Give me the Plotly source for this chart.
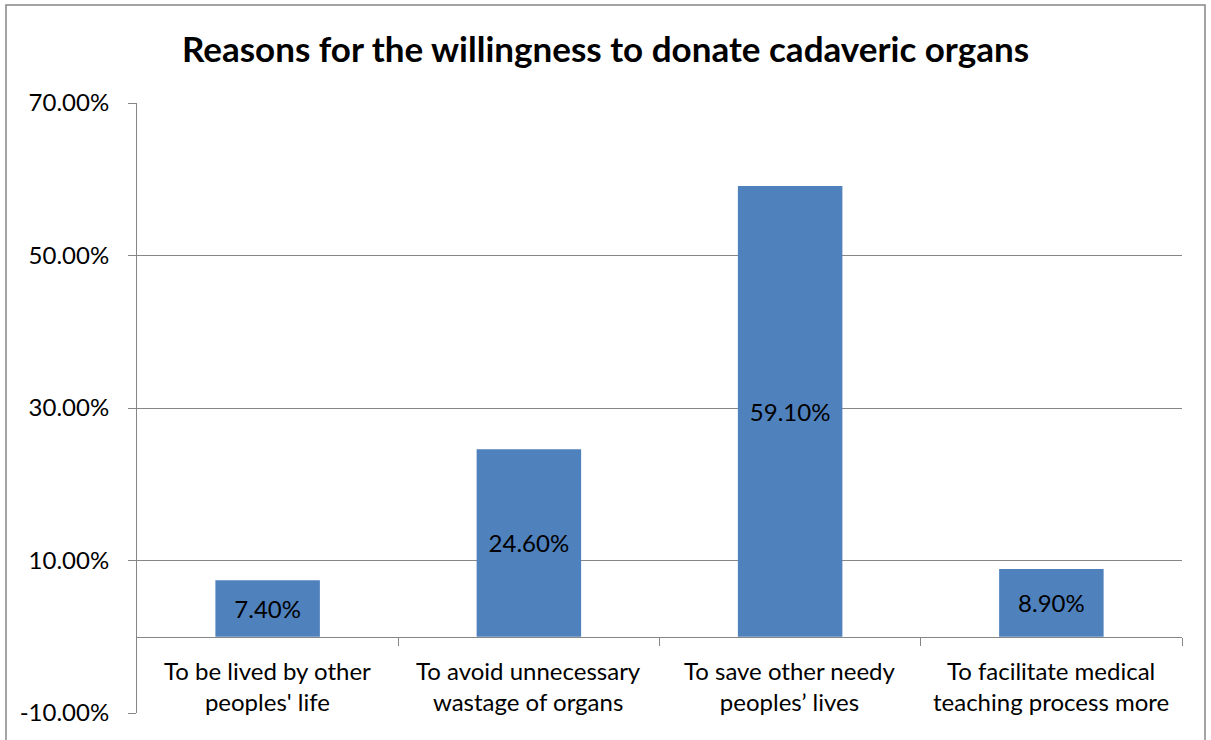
import plotly.graph_objects as go

categories = [
    "To be lived by other<br>peoples' life",
    "To avoid unnecessary<br>wastage of organs",
    "To save other needy<br>peoples’ lives",
    "To facilitate medical<br>teaching process more",
]
values = [7.4, 24.6, 59.1, 8.9]
y_ticks = [-10, 10, 30, 50, 70]
y_tick_labels = ["-10.00%", "10.00%", "30.00%", "50.00%", "70.00%"]
title = "Reasons for the willingness to donate cadaveric organs"

FONT = "Lato"
BAR = "#4F81BD"
GRID = "#868686"

W, H = 1211, 740
ML, MR, MT, MB = 137, 29, 103, 27
pw, ph = W - ML - MR, H - MT - MB

x = list(range(len(categories)))
y_min, y_max = -10, 70
zero_frac = (0 - y_min) / (y_max - y_min)

fig = go.Figure()
fig.add_trace(go.Bar(
    x=x, y=values, width=0.4,
    marker=dict(color=BAR, line=dict(width=0)),
    text=[f"{v:.2f}%" for v in values],
    textposition="inside", insidetextanchor="middle",
    textfont=dict(family=FONT, size=24, color="#000000"),
    hoverinfo="skip",
))

for i, c in enumerate(categories):
    fig.add_annotation(
        x=i, y=0, xref="x", yref="y", text=c, showarrow=False,
        yanchor="top", yshift=-17, align="center",
        font=dict(family=FONT, size=24, color="#000000"),
    )

fig.update_layout(
    width=W, height=H,
    margin=dict(l=ML, r=MR, t=MT, b=MB),
    paper_bgcolor="white", plot_bgcolor="white",
    showlegend=False,
    title=dict(text=f"<b>{title}</b>", x=0.5, xanchor="center",
               y=1 - 50 / H, yanchor="middle",
               font=dict(family=FONT, size=35, color="#000000")),
    xaxis=dict(range=[-0.5, len(categories) - 0.5], anchor="free",
               position=zero_frac, showline=True, linecolor=GRID, linewidth=1,
               tickvals=[i + 0.5 for i in range(len(categories))],
               ticktext=["" for _ in categories],
               ticks="outside", ticklen=8, tickcolor=GRID,
               showgrid=False, zeroline=False),
    yaxis=dict(range=[y_min, y_max], tickvals=y_ticks, ticktext=y_tick_labels,
               showline=True, linecolor=GRID, linewidth=1,
               ticks="outside", ticklen=8, tickcolor=GRID,
               ticklabelstandoff=14,
               showgrid=True, gridcolor=GRID, gridwidth=1, zeroline=False,
               tickfont=dict(family=FONT, size=24, color="#000000")),
)

# chart frame
fig.add_shape(type="rect", xref="paper", yref="paper",
              x0=(6 - ML) / pw, x1=(1205 - ML) / pw,
              y0=-(H + 5 - MT - ph) / ph, y1=1 + (MT - 5) / ph,
              line=dict(color=GRID, width=1.5), layer="below")

fig.write_html("out.html")
